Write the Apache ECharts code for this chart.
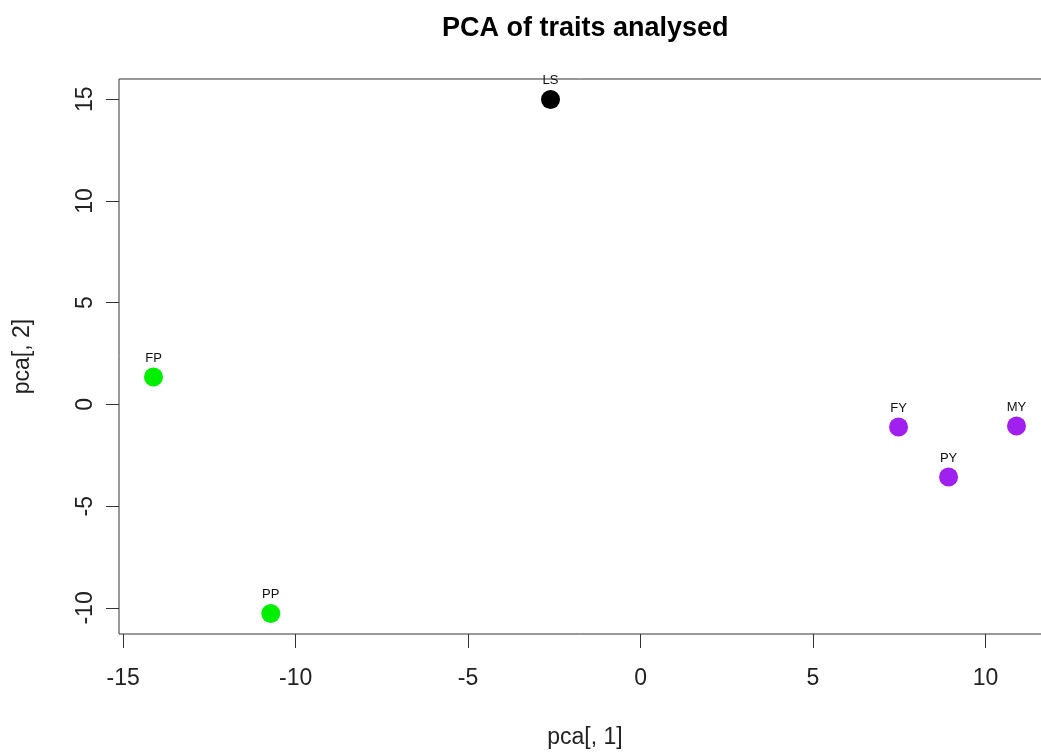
<!DOCTYPE html>
<html>
<head>
<meta charset="utf-8">
<script src="https://cdn.jsdelivr.net/npm/echarts@6/dist/echarts.min.js"></script>
<style>
html,body{margin:0;padding:0;background:#fff;}
#chart{width:1041px;height:754px;}
</style>
</head>
<body>
<div id="chart"></div>
<script>
// Data
const traitNames = ['LS', 'FP', 'PP', 'FY', 'PY', 'MY'];
const pc1 = [-2.61, -14.12, -10.72, 7.48, 8.93, 10.9];
const pc2 = [14.98, 1.35, -10.27, -1.11, -3.57, -1.06];
const pointColors = ['#000000', '#00EE00', '#00EE00', '#A020F0', '#A020F0', '#A020F0'];
const xTicks = [-15, -10, -5, 0, 5, 10];
const yTicks = [-10, -5, 0, 5, 10, 15];

const data = traitNames.map((n, i) => ({
  name: n,
  value: [pc1[i], pc2[i]],
  itemStyle: { color: pointColors[i], opacity: 1 }
}));

const font = 'Liberation Sans, Arial, sans-serif';
const chart = echarts.init(document.getElementById('chart'));
chart.setOption({
  animation: false,
  backgroundColor: '#ffffff',
  title: {
    text: 'PCA of traits analysed',
    left: 437,
    top: 10,
    textStyle: { fontFamily: font, fontSize: 27, fontWeight: 'bold', color: '#000' }
  },
  grid: {
    left: 119, top: 79, width: 932, height: 555,
    outerBoundsMode: 'none',
    containLabel: false,
    show: true, borderColor: '#333', borderWidth: 1, backgroundColor: 'transparent'
  },
  xAxis: {
    type: 'value', min: -15.12, max: 11.9,
    name: 'pca[, 1]', nameLocation: 'middle', nameGap: 92,
    nameTextStyle: { fontFamily: font, fontSize: 23, color: '#222' },
    axisLine: { show: false, onZero: false },
    axisTick: { show: true, length: 14, lineStyle: { color: '#333' }, customValues: xTicks },
    axisLabel: { show: true, margin: 33, fontFamily: font, fontSize: 23, color: '#222', customValues: xTicks },
    splitLine: { show: false }
  },
  yAxis: {
    type: 'value', min: -11.28, max: 15.99,
    name: 'pca[, 2]', nameLocation: 'middle', nameGap: 85, nameRotate: 90,
    nameTextStyle: { fontFamily: font, fontSize: 23, color: '#222' },
    axisLine: { show: false, onZero: false },
    axisTick: { show: true, length: 13, lineStyle: { color: '#333' }, customValues: yTicks },
    axisLabel: { show: true, rotate: 90, margin: 22, fontFamily: font, fontSize: 23, color: '#222', customValues: yTicks },
    splitLine: { show: false }
  },
  series: [{
    type: 'scatter',
    symbol: 'circle',
    symbolSize: 19,
    data: data,
    itemStyle: { opacity: 1 },
    label: {
      show: true,
      position: 'top',
      distance: 3,
      formatter: '{b}',
      fontFamily: font,
      fontSize: 13,
      color: '#111'
    }
  }]
});
</script>
</body>
</html>
